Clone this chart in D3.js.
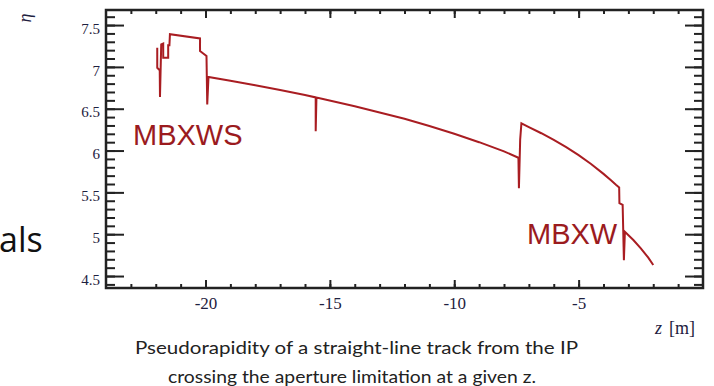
<!DOCTYPE html>
<html><head><meta charset="utf-8">
<script src="https://cdn.jsdelivr.net/npm/d3@7"></script>
<style>html,body{margin:0;padding:0;background:#fff;overflow:hidden}</style>
</head><body>
<svg id="c" width="714" height="386"></svg>
<script>
// ---- data ----
const zValues   = [-21.94,-21.94,-21.84,-21.83,-21.78,-21.70,-21.70,-21.50,-21.50,-21.45,-21.43,-20.22,-20.22,-20.09,-19.96,-19.93,-19.88,-19.0,-18.0,-17.0,-16.0,-15.57,-15.57,-15.54,-14.0,-13.0,-12.0,-11.0,-10.0,-9.0,-8.0,-7.42,-7.40,-7.35,-7.30,-7.0,-6.5,-6.0,-5.5,-5.0,-4.5,-4.0,-3.7,-3.5,-3.37,-3.36,-3.23,-3.18,-3.14,-2.8,-2.5,-2.2,-2.0];
const etaValues = [7.23,6.99,6.96,6.64,7.27,7.28,7.11,7.11,7.26,7.26,7.39,7.34,7.19,7.16,7.13,6.55,6.88,6.835,6.78,6.723,6.663,6.635,6.23,6.633,6.53,6.455,6.38,6.293,6.20,6.10,5.99,5.914,5.55,6.13,6.325,6.281,6.207,6.127,6.04,5.945,5.839,5.721,5.645,5.592,5.56,5.37,5.35,4.69,5.03,4.93,4.83,4.72,4.632];
const yTickValues = [4.5,5,5.5,6,6.5,7,7.5];
const yTickLabels = ["4.5","5","5.5","6","6.5","7","7.5"];
const xTickValues = [-20,-15,-10,-5];
const xTickLabels = ["-20","-15","-10","-5"];
const labelNames = ["MBXWS","MBXW"];
const captionLines = ["Pseudorapidity of a straight-line track from the IP","crossing the aperture limitation at a given z."];

// ---- layout ----
const svg = d3.select("#c");
const L = 106, R = 703, T = 10, B = 288;
const x = d3.scaleLinear().domain([-24, 0]).range([L, R]);
const y = d3.scaleLinear().domain([4.357, 7.68]).range([B, T]);
const yMinor = d3.range(44, 77).map(d => d / 10);
const xMinor = d3.range(-23, 0);
const axisColor = "#222";
const labColor = "#1e2140";

function styleAxis(g) {
  g.select(".domain").remove();
  g.selectAll("line").attr("stroke", axisColor).attr("stroke-width", 2);
}
// left
svg.append("g").attr("transform", `translate(${L},0)`)
  .call(d3.axisLeft(y).tickValues(yMinor).tickSizeInner(-9).tickSizeOuter(0).tickFormat(""))
  .call(styleAxis);
svg.append("g").attr("transform", `translate(${L},0)`)
  .call(d3.axisLeft(y).tickValues(yTickValues).tickSizeInner(-18).tickSizeOuter(0).tickPadding(6)
    .tickFormat((d, i) => yTickLabels[i]))
  .call(styleAxis)
  .call(g => g.selectAll("text").attr("fill", labColor).attr("font-family", "Liberation Serif")
    .attr("font-size", 15).attr("dy", "0.55em"));
// right
svg.append("g").attr("transform", `translate(${R},0)`)
  .call(d3.axisRight(y).tickValues(yMinor).tickSizeInner(-9).tickSizeOuter(0).tickFormat(""))
  .call(styleAxis);
svg.append("g").attr("transform", `translate(${R},0)`)
  .call(d3.axisRight(y).tickValues(yTickValues).tickSizeInner(-18).tickSizeOuter(0).tickFormat(""))
  .call(styleAxis);
// bottom
svg.append("g").attr("transform", `translate(0,${B})`)
  .call(d3.axisBottom(x).tickValues(xMinor).tickSizeInner(-4).tickSizeOuter(0).tickFormat(""))
  .call(styleAxis);
svg.append("g").attr("transform", `translate(0,${B})`)
  .call(d3.axisBottom(x).tickValues(xTickValues).tickSizeInner(-8).tickSizeOuter(0).tickPadding(9)
    .tickFormat((d, i) => xTickLabels[i]))
  .call(styleAxis)
  .call(g => g.selectAll("text").attr("fill", labColor).attr("font-family", "Liberation Serif")
    .attr("font-size", 17));
// top
svg.append("g").attr("transform", `translate(0,${T})`)
  .call(d3.axisTop(x).tickValues(xMinor).tickSizeInner(-4).tickSizeOuter(0).tickFormat(""))
  .call(styleAxis);
svg.append("g").attr("transform", `translate(0,${T})`)
  .call(d3.axisTop(x).tickValues(xTickValues).tickSizeInner(-8).tickSizeOuter(0).tickFormat(""))
  .call(styleAxis);
// frame
svg.append("rect").attr("x", L).attr("y", T).attr("width", R - L).attr("height", B - T)
  .attr("fill", "none").attr("stroke", axisColor).attr("stroke-width", 2.5);

// curve
const pts = zValues.map((z, i) => [z, etaValues[i]]);
svg.append("path").datum(pts)
  .attr("d", d3.line().x(d => x(d[0])).y(d => y(d[1])))
  .attr("fill", "none").attr("stroke", "#a91d22").attr("stroke-width", 2)
  .attr("stroke-linejoin", "miter");

// magnet labels
svg.append("text").attr("x", 133).attr("y", 145).text(labelNames[0])
  .attr("font-family", "Liberation Sans").attr("font-size", 29).attr("fill", "#9b1b1e");
svg.append("text").attr("x", 527).attr("y", 244).text(labelNames[1])
  .attr("font-family", "Liberation Sans").attr("font-size", 29).attr("fill", "#9b1b1e");

// axis titles
svg.append("text").attr("transform", "translate(31,18) rotate(-90)").attr("text-anchor", "middle")
  .attr("font-family", "Liberation Serif").attr("font-style", "italic").attr("font-size", 18)
  .attr("fill", labColor).text("η");
const zt = svg.append("text").attr("x", 655).attr("y", 334).attr("font-family", "Liberation Serif")
  .attr("font-size", 18).attr("fill", labColor);
zt.append("tspan").attr("font-style", "italic").text("z");
zt.append("tspan").attr("dx", 7).text("[m]");

// caption
svg.append("text").attr("x", 135).attr("y", 354).attr("textLength", 443).attr("lengthAdjust", "spacingAndGlyphs")
  .attr("font-family", "Lato").attr("font-size", 16.5).attr("fill", "#222").text(captionLines[0]);
svg.append("text").attr("x", 168).attr("y", 383).attr("textLength", 368).attr("lengthAdjust", "spacingAndGlyphs")
  .attr("font-family", "Lato").attr("font-size", 16.5).attr("fill", "#222").text(captionLines[1]);

// cut-off slide text at left edge
svg.append("text").attr("x", -1).attr("y", 252).attr("font-family", "Open Sans")
  .attr("font-size", 34).attr("fill", "#111").text("als");
</script>
</body></html>
